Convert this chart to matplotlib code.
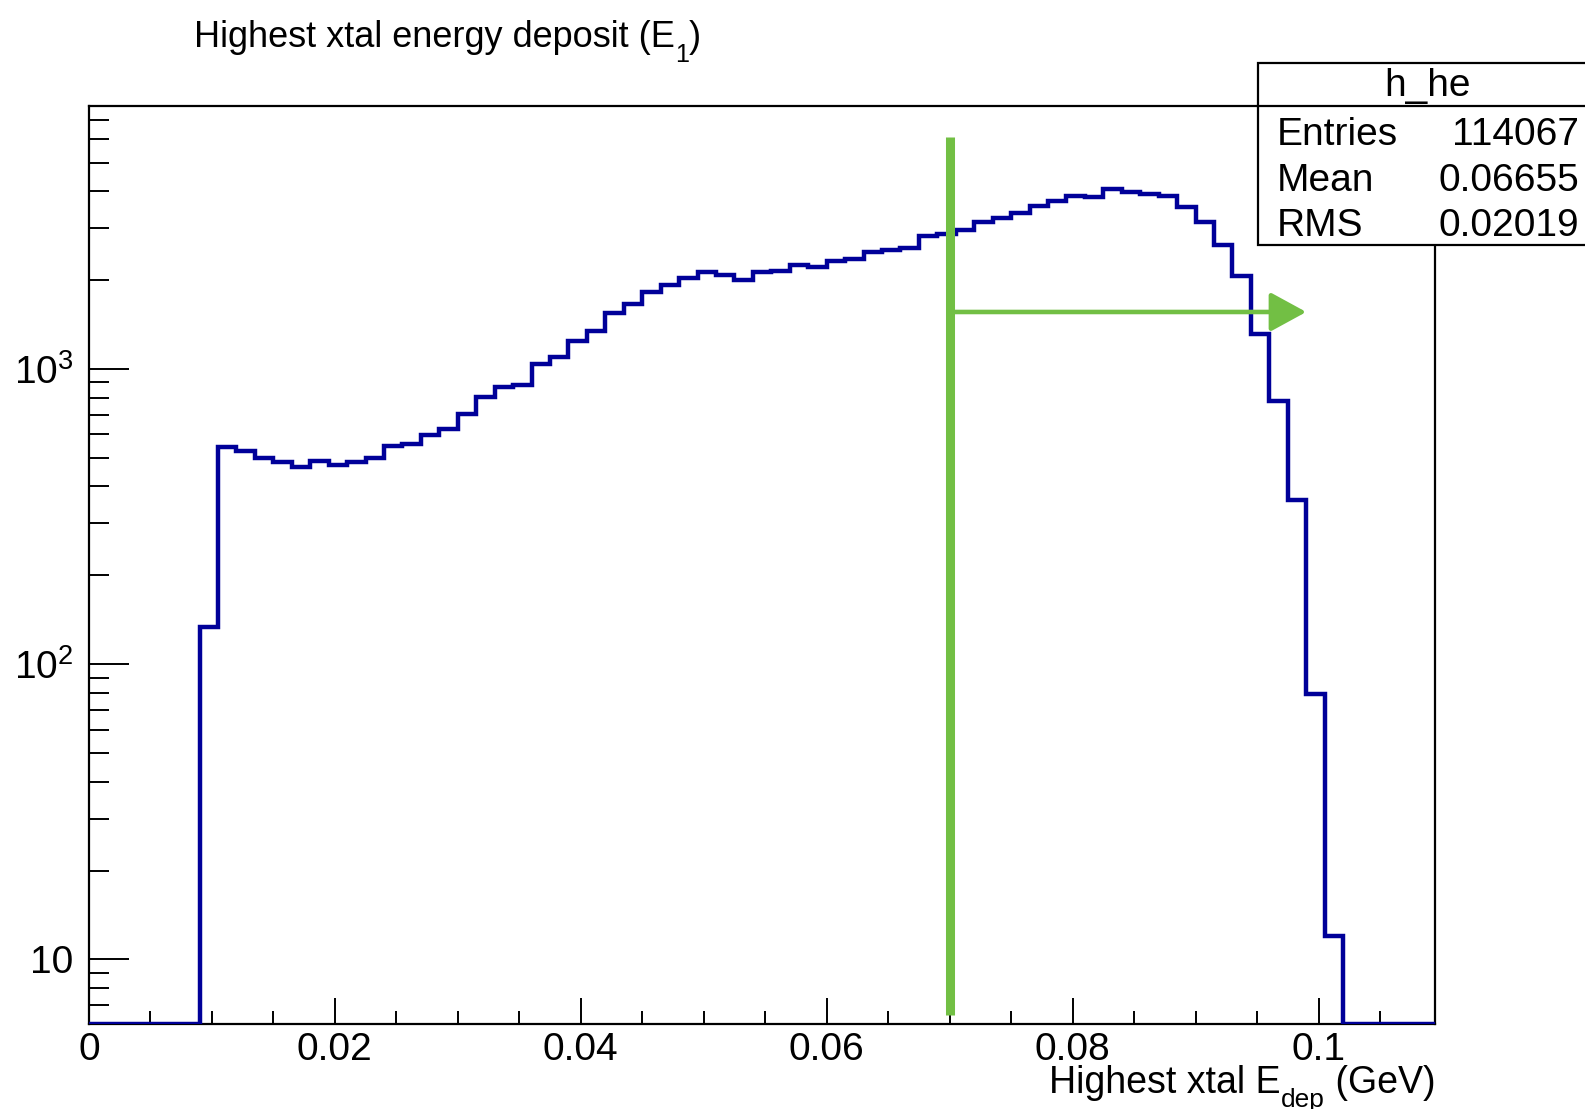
import numpy as np
import matplotlib
matplotlib.use('Agg')
import matplotlib.pyplot as plt
from matplotlib.patches import Rectangle
from matplotlib.ticker import FixedLocator, FuncFormatter

plt.rcParams['font.family'] = ['Liberation Sans', 'DejaVu Sans']
plt.rcParams['mathtext.fontset'] = 'custom'
plt.rcParams['mathtext.rm'] = 'Liberation Sans'
plt.rcParams['mathtext.it'] = 'Liberation Sans'

# histogram h_he : 73 bins of 0.0015 GeV
bin_lo = 0.0
bin_hi = 0.1095
counts = [0, 0, 0, 0, 0, 0, 134, 546, 528, 500,
          485, 465, 486, 472, 484, 499, 550, 556, 597, 627,
          705, 805, 867, 883, 1037, 1095, 1248, 1349, 1542, 1660,
          1818, 1923, 2027, 2125, 2080, 1995, 2125, 2148, 2250, 2219,
          2322, 2360, 2500, 2520, 2563, 2819, 2864, 2958, 3150, 3247,
          3383, 3565, 3697, 3855, 3813, 4073, 3966, 3902, 3855, 3532,
          3140, 2637, 2066, 1318, 777, 359, 79, 12, 0, 0,
          0, 0, 0]
stats_name = 'h_he'
stats_rows = [('Entries', '114067'), ('Mean', '0.06655'), ('RMS', '0.02019')]

# cut marker
cut_x = 0.07
cut_y = [6.5, 6100]
arrow_y = 1560
arrow_end = 0.099

ymin, ymax = 6.04, 7770
blue = '#000099'
green = '#72bf44'

fig = plt.figure(figsize=(15.85, 11.09), dpi=100)
ax = fig.add_axes([0.0561, 0.0766, 0.9056 - 0.0561, 0.9043 - 0.0766])

edges = np.linspace(bin_lo, bin_hi, len(counts) + 1)
vals = np.array(counts, dtype=float)
vals = np.where(vals > 0, vals, ymin)
ax.stairs(vals, edges, baseline=None, color=blue, lw=3.2, zorder=3)

ax.plot([cut_x, cut_x], cut_y, color=green, lw=6.5, solid_capstyle='butt', zorder=4)
ax.annotate('', xy=(arrow_end, arrow_y), xytext=(cut_x, arrow_y),
            arrowprops=dict(arrowstyle='-|>,head_length=0.55,head_width=0.3',
                            color=green, lw=3.3, mutation_scale=40, shrinkA=0, shrinkB=0),
            zorder=4)

ax.set_yscale('log')
ax.set_xlim(bin_lo, bin_hi)
ax.set_ylim(ymin, ymax)

ax.xaxis.set_major_locator(FixedLocator([0, 0.02, 0.04, 0.06, 0.08, 0.1]))
ax.xaxis.set_minor_locator(FixedLocator(np.arange(0, 0.11, 0.005)))
ax.xaxis.set_major_formatter(FuncFormatter(lambda v, p: '0' if v == 0 else ('%g' % v)))
ax.yaxis.set_major_locator(FixedLocator([10, 100, 1000]))
ax.yaxis.set_minor_locator(FixedLocator([d * m for d in (1, 10, 100, 1000) for m in range(2, 10)]))
ax.yaxis.set_major_formatter(FuncFormatter(lambda v, p: {10: '10', 100: '$10^{2}$', 1000: '$10^{3}$'}.get(int(round(v)), '')))
ax.yaxis.set_minor_formatter(FuncFormatter(lambda v, p: ''))

ax.tick_params(axis='x', which='major', direction='in', length=19, width=1.4, labelsize=28, pad=6)
ax.tick_params(axis='x', which='minor', direction='in', length=9.5, width=1.4)
ax.tick_params(axis='y', which='major', direction='in', length=29, width=1.4, labelsize=28, pad=11)
ax.tick_params(axis='y', which='minor', direction='in', length=14.5, width=1.4)
for s in ax.spines.values():
    s.set_linewidth(1.6)


def sub_text(x, y, main, sub, tail, size, drop, right=False):
    # ROOT-like subscript: lowered further than mathtext does it
    r = fig.canvas.get_renderer()
    W = fig.bbox.width
    H = fig.bbox.height
    t1 = fig.text(x, y, main, fontsize=size, va='baseline')
    x2 = t1.get_window_extent(r).x1 / W
    t2 = fig.text(x2, y - drop / H, sub, fontsize=size * 0.7, va='baseline')
    x3 = t2.get_window_extent(r).x1 / W
    t3 = fig.text(x3, y, tail, fontsize=size, va='baseline')
    if right:
        shift = t3.get_window_extent(r).x1 / W - x
        for t in (t1, t2, t3):
            t.set_x(t.get_position()[0] - shift)


sub_text(0.1224, 0.958, 'Highest xtal energy deposit (E', '1', ')', 26, 15)
sub_text(0.9056, 0.0145, 'Highest xtal E', 'dep', ' (GeV)', 27, 14, right=True)

# stats box
box = Rectangle((0.794, 0.7794), 0.3, 0.9435 - 0.7794, transform=fig.transFigure,
                facecolor='white', edgecolor='black', lw=1.6, zorder=10)
fig.add_artist(box)
fig.add_artist(plt.Line2D([0.794, 1.0], [0.9043, 0.9043], transform=fig.transFigure,
                          color='black', lw=1.6, zorder=11))
fig.text(0.9005, 0.9134, stats_name, fontsize=28, ha='center', va='baseline', zorder=12)
row_y = [0.8696, 0.8277, 0.7876]
for (k, v), y in zip(stats_rows, row_y):
    fig.text(0.8055, y, k, fontsize=28, ha='left', va='baseline', zorder=12)
    fig.text(0.9962, y, v, fontsize=28, ha='right', va='baseline', zorder=12)

fig.savefig('out.png', dpi=100)
